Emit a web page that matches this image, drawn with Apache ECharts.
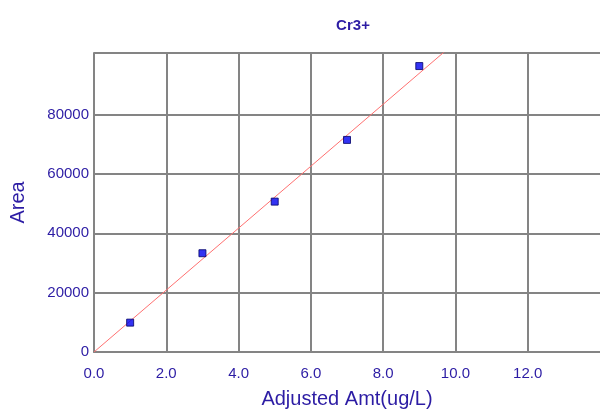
<!DOCTYPE html>
<html>
<head>
<meta charset="utf-8">
<script src="https://cdn.jsdelivr.net/npm/echarts@6/dist/echarts.min.js"></script>
<style>html,body{margin:0;padding:0;background:#fff}#c{width:600px;height:410px}</style>
</head>
<body>
<div id="c"></div>
<script>
var titleText = 'Cr3+';
var xName = 'Adjusted Amt(ug/L)';
var yName = 'Area';
var amounts = [1, 3, 5, 7, 9];
var areas = [9900, 33300, 50700, 71500, 96400];
var fitX = [0, 10];
var fitY = [0, 104400];

var textColor = '#2c1ca4';
var gridColor = '#848484';
var font = 'Liberation Sans, Arial, sans-serif';

var chart = echarts.init(document.getElementById('c'), null, {renderer: 'canvas'});
chart.setOption({
  animation: false,
  backgroundColor: '#ffffff',
  title: {
    text: titleText, left: 348, top: 13, textAlign: 'center',
    textStyle: {color: textColor, fontSize: 15, fontWeight: 'bold', fontFamily: font}
  },
  grid: {left: 94, top: 53, right: 0, bottom: 58, containLabel: false, outerBoundsMode: 'none'},
  xAxis: {
    type: 'value', min: 0, max: 14, interval: 2,
    name: xName, nameLocation: 'middle', nameGap: 37,
    nameTextStyle: {color: textColor, fontSize: 20, fontFamily: font},
    axisLine: {show: true, lineStyle: {color: gridColor, width: 2}},
    axisTick: {show: false},
    axisLabel: {color: textColor, fontSize: 15, fontFamily: font, margin: 14,
      formatter: function (v) { return v >= 14 ? '' : v.toFixed(1); }},
    splitLine: {show: true, lineStyle: {width: 2,
      color: [gridColor, gridColor, gridColor, gridColor, gridColor, gridColor, gridColor, 'rgba(0,0,0,0)']}}
  },
  yAxis: {
    type: 'value', min: 0, max: 100800, interval: 20000,
    name: yName, nameLocation: 'middle', nameGap: 66,
    nameTextStyle: {color: textColor, fontSize: 20, fontFamily: font},
    axisLine: {show: true, lineStyle: {color: gridColor, width: 2}},
    axisTick: {show: false},
    axisLabel: {color: textColor, fontSize: 15, fontFamily: font, margin: 5,
      formatter: function (v) { return v > 80000 ? '' : String(v); }},
    splitLine: {show: true, lineStyle: {width: 2,
      color: [gridColor, gridColor, gridColor, gridColor, gridColor, 'rgba(0,0,0,0)', gridColor]}}
  },
  series: [
    {
      type: 'line', data: fitX.map(function (x, i) { return [x, fitY[i]]; }),
      showSymbol: false, clip: true, silent: true,
      lineStyle: {color: '#ff7070', width: 1}, z: 2
    },
    {
      type: 'scatter', data: amounts.map(function (x, i) { return [x, areas[i]]; }),
      symbol: 'rect', symbolSize: 7,
      itemStyle: {color: '#0000f0', borderColor: '#000066', borderWidth: 1}, z: 3
    }
  ]
});
</script>
</body>
</html>
